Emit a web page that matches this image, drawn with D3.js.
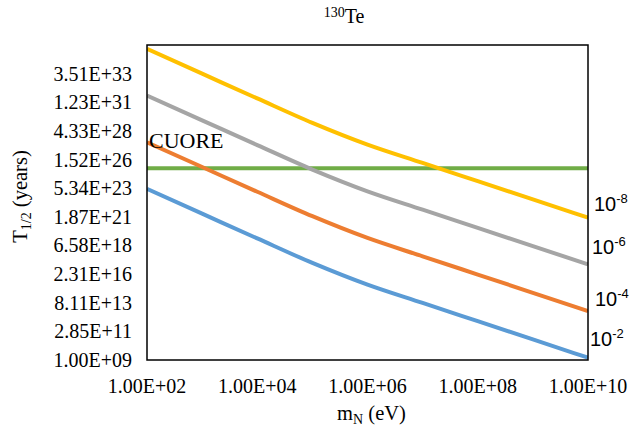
<!DOCTYPE html>
<html>
<head>
<meta charset="utf-8">
<script src="https://cdn.jsdelivr.net/npm/d3@7"></script>
<style>
    body { margin: 0; background: #fff; }
    svg { display: block; }
    .tick-label { font-family: "Liberation Serif", "Times New Roman", serif; font-size: 20px; fill: #000; }
    .axis-title { font-family: "Liberation Serif", "Times New Roman", serif; font-size: 20.5px; fill: #000; }
    .mix-label { font-family: "Liberation Sans", Arial, sans-serif; font-size: 20px; fill: #000; }
</style>
</head>
<body>
<div id="chart"></div>
<script>

// sterile neutrino mass (eV)
let massValues = [1e2, 1e3, 1e4, 1e5, 1e6, 1e7, 1e8, 1e9, 1e10];

// half-life (years) for each mixing value
let halfLife1e2 = [4.62e23, 3.49e21, 2.64e19, 2.11e17, 2.88e15, 7.73e13, 2.11e12, 5.77e10, 1.58e9];
let halfLife1e4 = [4.62e27, 3.49e25, 2.64e23, 2.11e21, 2.88e19, 7.73e17, 2.11e16, 5.77e14, 1.58e13];
let halfLife1e6 = [4.62e31, 3.49e29, 2.64e27, 2.11e25, 2.88e23, 7.73e21, 2.11e20, 5.77e18, 1.58e17];
let halfLife1e8 = [4.62e35, 3.49e33, 2.64e31, 2.11e29, 2.88e27, 7.73e25, 2.11e24, 5.77e22, 1.58e21];

// CUORE limit
let cuoreLimit = 2.75e25;

// axis ticks
let xTicks = [1e2, 1e4, 1e6, 1e8, 1e10];
let xTickLabels = ["1.00E+02", "1.00E+04", "1.00E+06", "1.00E+08", "1.00E+10"];
let yTicks = [1e9, 2.85e11, 8.11e13, 2.31e16, 6.58e18, 1.87e21, 5.34e23, 1.52e26, 4.33e28, 1.23e31, 3.51e33];
let yTickLabels = ["1.00E+09", "2.85E+11", "8.11E+13", "2.31E+16", "6.58E+18", "1.87E+21",
    "5.34E+23", "1.52E+26", "4.33E+28", "1.23E+31", "3.51E+33"];

let seriesNames = ["-2", "-4", "-6", "-8"];
let seriesColors = ["#5b9bd5", "#ed7d31", "#a5a5a5", "#ffc000"];
let seriesData = [halfLife1e2, halfLife1e4, halfLife1e6, halfLife1e8];

let margin = {top: 45, right: 44, bottom: 70, left: 147};
let totalWidth = 632, totalHeight = 430;
let width = totalWidth - margin.left - margin.right;
let height = totalHeight - margin.top - margin.bottom;

let svg = d3.select("#chart").append("svg")
    .attr("width", totalWidth)
    .attr("height", totalHeight);

let g = svg.append("g")
    .attr("transform", `translate(${margin.left}, ${margin.top})`);

let x = d3.scaleLog().domain([1e2, 1e10]).range([0, width]);
let y = d3.scaleLog().domain([1e9, 1e36]).range([height, 0]);

// clip lines to the plot box
g.append("defs").append("clipPath")
    .attr("id", "plot-clip")
    .append("rect")
    .attr("width", width)
    .attr("height", height);

// y tick labels
g.selectAll(".y-label")
    .data(yTicks)
    .enter().append("text")
    .attr("class", "tick-label")
    .attr("x", -15)
    .attr("y", d => y(d))
    .attr("dy", "0.35em")
    .attr("text-anchor", "end")
    .text((d, i) => yTickLabels[i]);

// x tick labels
g.selectAll(".x-label")
    .data(xTicks)
    .enter().append("text")
    .attr("class", "tick-label")
    .attr("x", d => x(d))
    .attr("y", height + 33)
    .attr("text-anchor", "middle")
    .text((d, i) => xTickLabels[i]);

let line = d3.line()
    .x((d, i) => x(massValues[i]))
    .y(d => y(d))
    .curve(d3.curveMonotoneX);

let lines = g.append("g").attr("clip-path", "url(#plot-clip)");

// CUORE horizontal limit
lines.append("line")
    .attr("x1", x(1e2))
    .attr("x2", x(1e10))
    .attr("y1", y(cuoreLimit))
    .attr("y2", y(cuoreLimit))
    .style("stroke", "#70ad47")
    .style("stroke-width", 4);

lines.selectAll(".series")
    .data(seriesData)
    .enter().append("path")
    .attr("class", "series")
    .attr("d", line)
    .style("fill", "none")
    .style("stroke", (d, i) => seriesColors[i])
    .style("stroke-width", 4);

// plot border
g.append("rect")
    .attr("width", width)
    .attr("height", height)
    .style("fill", "none")
    .style("stroke", "#000")
    .style("stroke-width", 1.5);

// CUORE label
g.append("text")
    .attr("class", "axis-title")
    .attr("x", 2)
    .attr("y", y(cuoreLimit) - 20)
    .style("font-size", "22px")
    .text("CUORE");

// mixing labels on the right
let mixOffsets = [-12, -5, -10, -7];
let mixShift = [2, 7, 4, 6];
seriesData.forEach((s, i) => {
    let t = g.append("text")
        .attr("class", "mix-label")
        .attr("x", width + mixShift[i])
        .attr("y", y(s[s.length - 1]) + mixOffsets[i]);
    t.append("tspan").text("10");
    t.append("tspan")
        .attr("dy", -8)
        .style("font-size", "13px")
        .text(seriesNames[i]);
});

// title
let title = svg.append("text")
    .attr("class", "axis-title")
    .attr("x", 344)
    .attr("y", 23)
    .attr("text-anchor", "middle");
title.append("tspan").attr("dy", -6).style("font-size", "14px").text("130");
title.append("tspan").attr("dy", 6).style("font-size", "20px").text("Te");

// x axis title
let xTitle = svg.append("text")
    .attr("class", "axis-title")
    .attr("x", margin.left + width / 2 + 4)
    .attr("y", 420)
    .attr("text-anchor", "middle");
xTitle.append("tspan").text("m");
xTitle.append("tspan").attr("dy", 4).style("font-size", "14px").text("N");
xTitle.append("tspan").attr("dy", -4).text(" (eV)");

// y axis title
let yTitle = svg.append("text")
    .attr("class", "axis-title")
    .attr("transform", `translate(27, ${margin.top + height / 2 - 6}) rotate(-90)`)
    .attr("text-anchor", "middle");
yTitle.append("tspan").text("T");
yTitle.append("tspan").attr("dy", 4).style("font-size", "14px").text("1/2");
yTitle.append("tspan").attr("dy", -4).text(" (years)");

</script>
</body>
</html>
